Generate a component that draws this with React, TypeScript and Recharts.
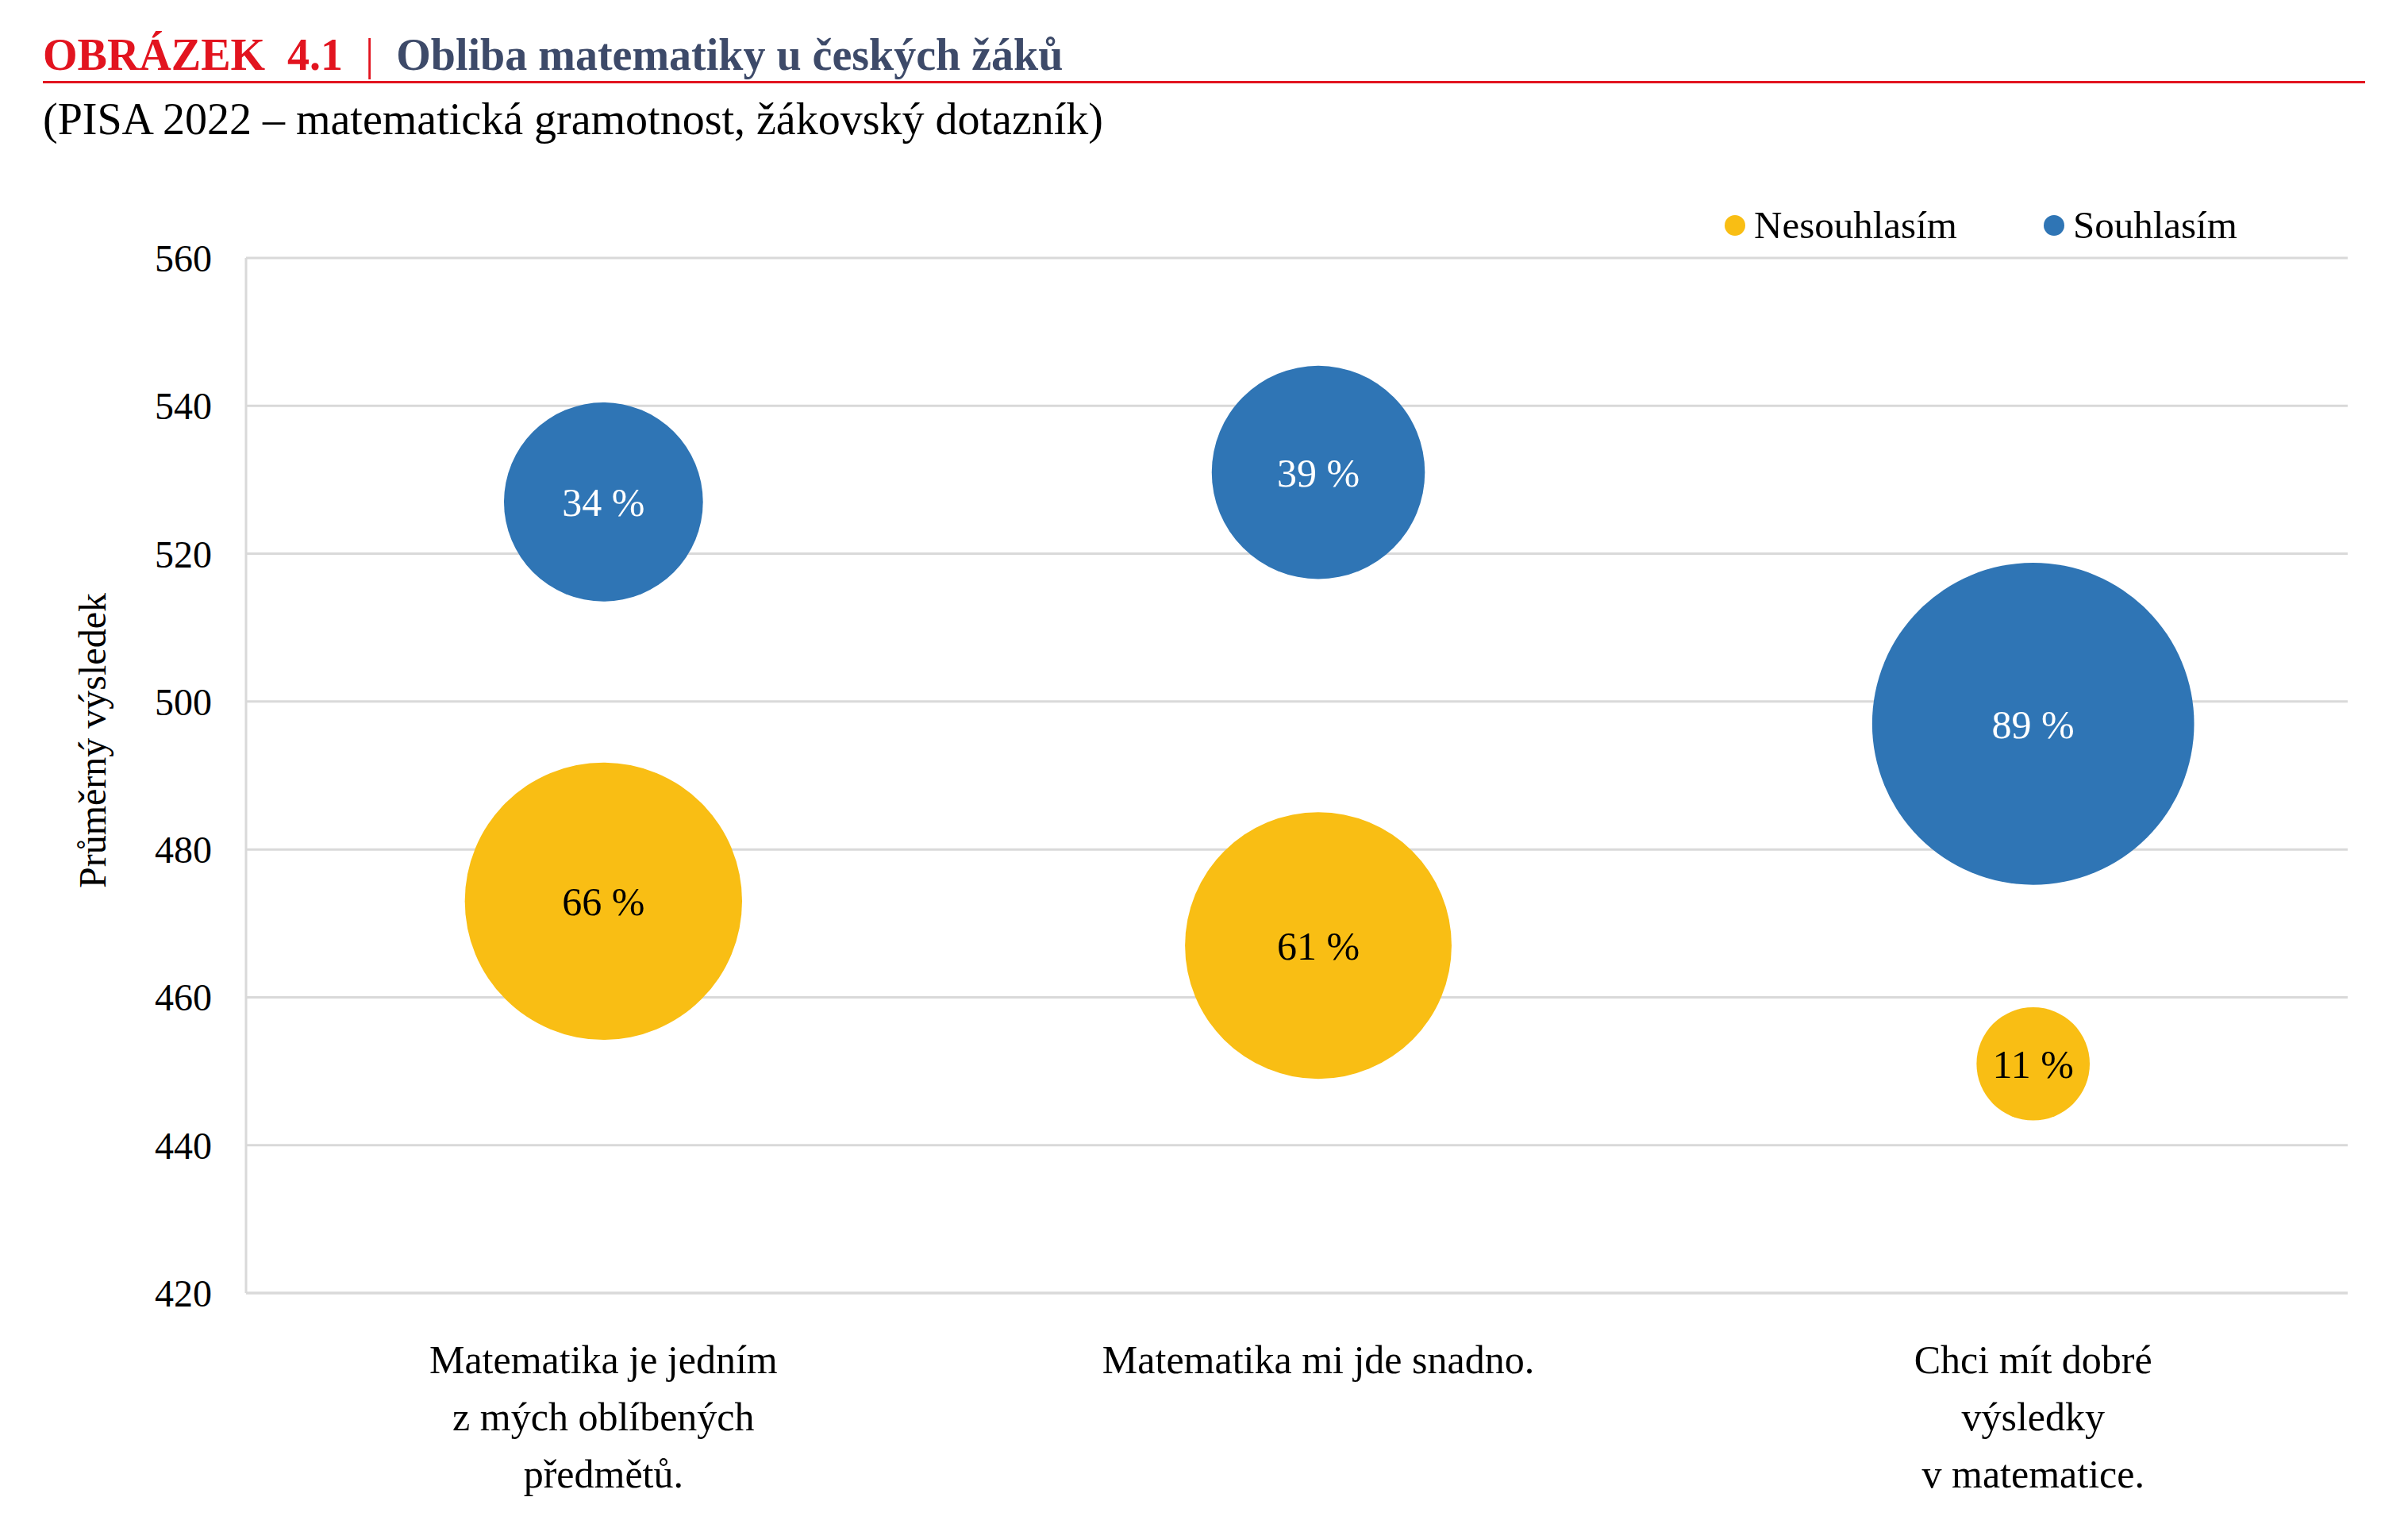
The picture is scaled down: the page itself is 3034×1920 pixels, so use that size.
import React from "react";
import {
  ScatterChart,
  Scatter,
  XAxis,
  YAxis,
  ZAxis,
  CartesianGrid,
  Legend,
  LabelList,
} from "recharts";

// data
const categoryLines = [
  ["Matematika je jedním", "z mých oblíbených", "předmětů."],
  ["Matematika mi jde snadno."],
  ["Chci mít dobré", "výsledky", "v matematice."],
];
const categoryPos = [1, 2, 3];
const nesouhlasimScore = [473, 467, 451];
const nesouhlasimPct = [66, 61, 11];
const souhlasimScore = [527, 531, 497];
const souhlasimPct = [34, 39, 89];
const yTicks = [420, 440, 460, 480, 500, 520, 540, 560];

const FONT = "'Liberation Serif', 'Times New Roman', serif";
const BLUE = "#2F75B5";
const YELLOW = "#F9BE14";
const GRID = "#d9d9d9";

const nesouhlasimData = categoryPos.map((x, i) => ({
  x,
  y: nesouhlasimScore[i],
  pct: nesouhlasimPct[i],
}));
const souhlasimData = categoryPos.map((x, i) => ({
  x,
  y: souhlasimScore[i],
  pct: souhlasimPct[i],
}));

function CategoryTick(props: any) {
  const { x, y, payload } = props;
  const lines = categoryLines[payload.value - 1] || [];
  return (
    <text
      x={x}
      y={y + 99}
      textAnchor="middle"
      fontFamily={FONT}
      fontSize={50}
      fill="#000"
    >
      {lines.map((l, i) => (
        <tspan key={i} x={x} dy={i === 0 ? 0 : 72}>
          {l}
        </tspan>
      ))}
    </text>
  );
}

function YTitle(props: any) {
  const vb = props.viewBox || {};
  const cx = vb.x + 116;
  const cy = vb.y + vb.height / 2 - 44;
  return (
    <text
      x={cx}
      y={cy}
      transform={`rotate(-90, ${cx}, ${cy})`}
      textAnchor="middle"
      dominantBaseline="central"
      fontFamily={FONT}
      fontSize={48}
      fill="#000"
    >
      Průměrný výsledek
    </text>
  );
}

function LegendContent(props: any) {
  const items = props.payload || [];
  return (
    <div style={{ display: "flex", alignItems: "center", fontFamily: FONT, fontSize: 49, lineHeight: "56px" }}>
      {items.map((it: any, i: number) => (
        <div key={i} style={{ display: "flex", alignItems: "center", marginRight: 109 }}>
          <span
            style={{
              display: "inline-block",
              width: 26,
              height: 26,
              borderRadius: 13,
              background: it.color,
              marginRight: 11,
            }}
          />
          <span style={{ color: "#000" }}>{it.value}</span>
        </div>
      ))}
    </div>
  );
}

export default function App() {
  return (
    <div
      style={{
        position: "fixed",
        left: 0,
        top: 0,
        width: 3034,
        height: 1920,
        background: "#fff",
        overflow: "hidden",
        fontFamily: FONT,
      }}
    >
      {/* nadpis */}
      <div
        style={{
          position: "absolute",
          left: 54,
          top: 41,
          fontSize: 56,
          lineHeight: 1,
          fontWeight: 700,
          whiteSpace: "pre",
        }}
      >
        <span style={{ color: "#E2141F" }}>OBRÁZEK  4.1</span>
        <span style={{ color: "#E2141F", fontWeight: 400 }}>  |  </span>
        <span style={{ color: "#3D4A69" }}>Obliba matematiky u českých žáků</span>
      </div>
      <div
        style={{
          position: "absolute",
          left: 54,
          top: 102,
          width: 2926,
          height: 3,
          background: "#E2141F",
        }}
      />
      <div
        style={{
          position: "absolute",
          left: 54,
          top: 122,
          fontSize: 56,
          lineHeight: 1,
          color: "#000",
          whiteSpace: "pre",
        }}
      >
        (PISA 2022 – matematická gramotnost, žákovský dotazník)
      </div>

      <div style={{ position: "absolute", left: 0, top: 0 }}>
        <ScatterChart
          width={3034}
          height={1920}
          margin={{ top: 325, right: 76, bottom: 0, left: 0 }}
          style={{ fontFamily: FONT }}
        >
          <CartesianGrid horizontal vertical={false} stroke={GRID} strokeWidth={3} />
          <XAxis
            type="number"
            dataKey="x"
            domain={[0.5, 3.44]}
            ticks={categoryPos}
            allowDataOverflow
            height={291}
            tickLine={false}
            tickSize={0}
            axisLine={{ stroke: GRID, strokeWidth: 3 }}
            tick={<CategoryTick />}
            interval={0}
          />
          <YAxis
            type="number"
            dataKey="y"
            domain={[420, 560]}
            ticks={yTicks}
            width={310}
            tickLine={false}
            tickSize={0}
            tickMargin={43}
            axisLine={{ stroke: GRID, strokeWidth: 3 }}
            tick={{ fontFamily: FONT, fontSize: 48, fill: "#000" }}
            label={<YTitle />}
          />
          <ZAxis type="number" dataKey="pct" domain={[0, 100]} range={[0, 145220]} />
          <Legend
            layout="vertical"
            align="center"
            verticalAlign="middle"
            wrapperStyle={{ left: 2173, top: 256, width: 720 }}
            content={<LegendContent />}
          />
          <Scatter
            name="Nesouhlasím"
            data={nesouhlasimData}
            fill={YELLOW}
            isAnimationActive={false}
          >
            <LabelList
              dataKey="pct"
              position="center"
              formatter={(v: any) => `${v} %`}
              style={{ fontFamily: FONT, fontSize: 50, fill: "#000" }}
            />
          </Scatter>
          <Scatter
            name="Souhlasím"
            data={souhlasimData}
            fill={BLUE}
            isAnimationActive={false}
          >
            <LabelList
              dataKey="pct"
              position="center"
              formatter={(v: any) => `${v} %`}
              style={{ fontFamily: FONT, fontSize: 50, fill: "#fff" }}
            />
          </Scatter>
        </ScatterChart>
      </div>
    </div>
  );
}
